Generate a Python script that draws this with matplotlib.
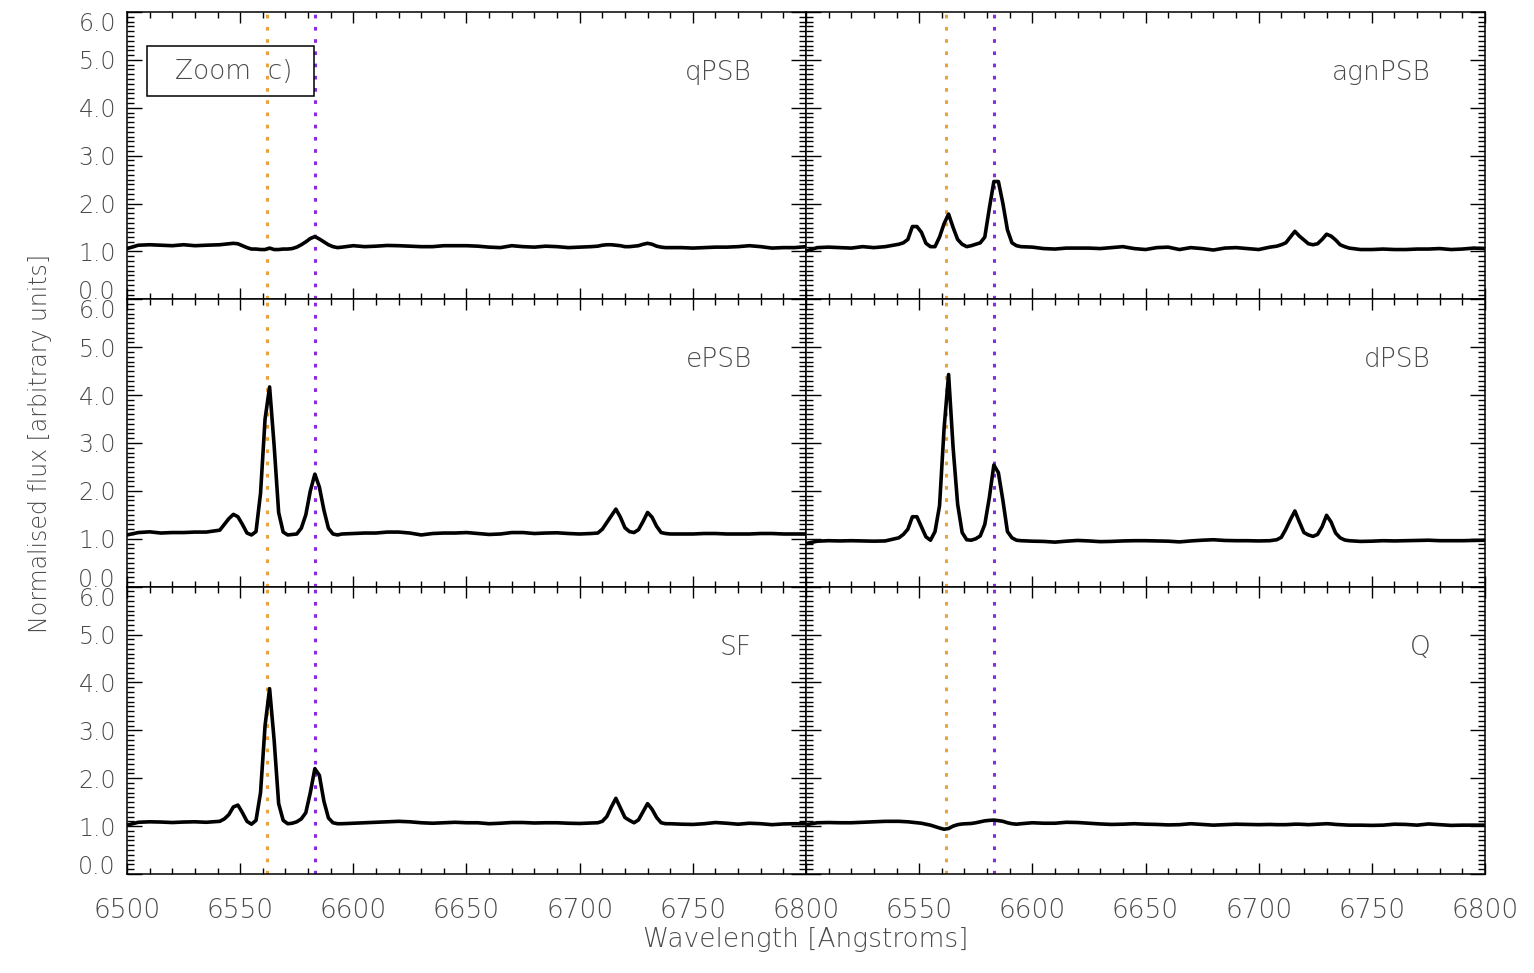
import matplotlib
matplotlib.use('Agg')
import matplotlib.pyplot as plt
from matplotlib.ticker import MultipleLocator, FormatStrFormatter, FixedLocator, FixedFormatter
from matplotlib.patches import Rectangle

# wavelength grid (Angstrom), finer around the emission lines
wave = [6500, 6505, 6510, 6515, 6520, 6525, 6530, 6535,
        6541, 6543, 6545, 6547, 6549, 6551, 6553, 6555, 6557, 6559, 6561, 6563,
        6565, 6567, 6569, 6571, 6573, 6575, 6577, 6579, 6581, 6583, 6585, 6587,
        6589, 6591, 6593, 6595,
        6600, 6605, 6610, 6615, 6620, 6625, 6630, 6635, 6640, 6645, 6650, 6655,
        6660, 6665, 6670, 6675, 6680, 6685, 6690, 6695, 6700, 6705,
        6708, 6710, 6712, 6714, 6716, 6718, 6720, 6722, 6724, 6726, 6728, 6730,
        6732, 6734, 6736, 6738,
        6740, 6745, 6750, 6755, 6760, 6765, 6770, 6775, 6780, 6785, 6790, 6795, 6800]

flux_qpsb = [1.06, 1.13, 1.14, 1.13, 1.12, 1.14, 1.12, 1.13,
             1.14, 1.15, 1.16, 1.17, 1.16, 1.12, 1.08, 1.05, 1.05, 1.04, 1.04, 1.07,
             1.04, 1.04, 1.05, 1.05, 1.06, 1.09, 1.14, 1.20, 1.27, 1.31, 1.26, 1.20,
             1.14, 1.10, 1.08, 1.09,
             1.12, 1.10, 1.11, 1.125, 1.12, 1.11, 1.10, 1.10, 1.12, 1.12, 1.12, 1.11,
             1.09, 1.08, 1.12, 1.10, 1.09, 1.11, 1.10, 1.08, 1.09, 1.10,
             1.11, 1.13, 1.14, 1.14, 1.13, 1.12, 1.10, 1.10, 1.11, 1.12, 1.15, 1.17,
             1.15, 1.11, 1.09, 1.08,
             1.08, 1.08, 1.07, 1.08, 1.09, 1.09, 1.10, 1.12, 1.10, 1.07, 1.08, 1.08, 1.10]

flux_agnpsb = [1.01, 1.08, 1.09, 1.08, 1.07, 1.10, 1.08, 1.10,
               1.15, 1.18, 1.25, 1.52, 1.52, 1.40, 1.17, 1.10, 1.10, 1.30, 1.58, 1.78,
               1.50, 1.25, 1.15, 1.10, 1.12, 1.15, 1.18, 1.30, 1.90, 2.46, 2.46, 2.00,
               1.45, 1.18, 1.12, 1.10,
               1.09, 1.06, 1.05, 1.07, 1.07, 1.07, 1.06, 1.08, 1.10, 1.06, 1.04, 1.08,
               1.09, 1.04, 1.08, 1.06, 1.03, 1.07, 1.08, 1.06, 1.04, 1.09,
               1.11, 1.14, 1.18, 1.30, 1.42, 1.32, 1.24, 1.16, 1.14, 1.16, 1.25, 1.36,
               1.32, 1.24, 1.14, 1.10,
               1.07, 1.04, 1.04, 1.05, 1.04, 1.04, 1.05, 1.05, 1.06, 1.04, 1.05, 1.07, 1.06]

flux_epsb = [1.08, 1.13, 1.145, 1.12, 1.13, 1.13, 1.14, 1.14,
             1.18, 1.30, 1.42, 1.51, 1.46, 1.30, 1.12, 1.08, 1.15, 1.95, 3.50, 4.17,
             2.95, 1.55, 1.14, 1.08, 1.09, 1.10, 1.22, 1.50, 2.00, 2.35, 2.08, 1.60,
             1.22, 1.10, 1.08, 1.10,
             1.11, 1.12, 1.12, 1.14, 1.14, 1.12, 1.08, 1.11, 1.12, 1.12, 1.13, 1.11,
             1.09, 1.10, 1.13, 1.13, 1.11, 1.12, 1.125, 1.11, 1.10, 1.11,
             1.12, 1.20, 1.34, 1.48, 1.62, 1.45, 1.23, 1.15, 1.13, 1.19, 1.36, 1.55,
             1.45, 1.26, 1.13, 1.11,
             1.10, 1.10, 1.10, 1.11, 1.11, 1.10, 1.10, 1.10, 1.11, 1.11, 1.10, 1.10, 1.10]

flux_dpsb = [0.90, 0.95, 0.96, 0.955, 0.96, 0.955, 0.95, 0.955,
             1.02, 1.09, 1.20, 1.46, 1.46, 1.25, 1.04, 0.97, 1.15, 1.69, 3.30, 4.43,
             2.90, 1.72, 1.13, 0.98, 0.97, 1.00, 1.06, 1.30, 1.86, 2.54, 2.38, 1.80,
             1.15, 1.02, 0.97, 0.96,
             0.95, 0.945, 0.93, 0.95, 0.965, 0.955, 0.94, 0.945, 0.955, 0.96, 0.96, 0.955,
             0.95, 0.935, 0.955, 0.97, 0.98, 0.965, 0.96, 0.96, 0.955, 0.96,
             0.98, 1.03, 1.20, 1.40, 1.58, 1.35, 1.13, 1.08, 1.05, 1.09, 1.25, 1.49,
             1.35, 1.12, 1.02, 0.975,
             0.96, 0.945, 0.95, 0.96, 0.955, 0.96, 0.965, 0.97, 0.96, 0.96, 0.96, 0.965, 0.97]

flux_sf = [1.02, 1.08, 1.09, 1.085, 1.075, 1.085, 1.09, 1.08,
           1.10, 1.15, 1.24, 1.40, 1.44, 1.28, 1.10, 1.04, 1.12, 1.70, 3.10, 3.87,
           2.80, 1.47, 1.12, 1.05, 1.06, 1.09, 1.15, 1.28, 1.70, 2.20, 2.06, 1.52,
           1.17, 1.07, 1.05, 1.05,
           1.06, 1.07, 1.08, 1.09, 1.10, 1.09, 1.07, 1.06, 1.07, 1.08, 1.07, 1.07,
           1.05, 1.06, 1.075, 1.075, 1.065, 1.07, 1.07, 1.06, 1.055, 1.065,
           1.07, 1.10, 1.20, 1.40, 1.58, 1.38, 1.18, 1.12, 1.07, 1.13, 1.30, 1.47,
           1.35, 1.18, 1.07, 1.05,
           1.05, 1.04, 1.035, 1.05, 1.075, 1.06, 1.04, 1.06, 1.05, 1.03, 1.045, 1.05, 1.05]

flux_q = [1.03, 1.07, 1.075, 1.07, 1.07, 1.08, 1.09, 1.10,
          1.10, 1.095, 1.09, 1.08, 1.07, 1.06, 1.04, 1.02, 0.99, 0.96, 0.935, 0.95,
          1.00, 1.03, 1.045, 1.05, 1.055, 1.07, 1.09, 1.11, 1.12, 1.125, 1.115, 1.10,
          1.07, 1.05, 1.04, 1.05,
          1.07, 1.06, 1.06, 1.08, 1.075, 1.06, 1.045, 1.035, 1.04, 1.05, 1.04, 1.035,
          1.025, 1.03, 1.05, 1.035, 1.02, 1.03, 1.04, 1.035, 1.03, 1.035,
          1.03, 1.03, 1.03, 1.035, 1.04, 1.04, 1.035, 1.03, 1.035, 1.04, 1.045, 1.05,
          1.045, 1.035, 1.03, 1.025,
          1.02, 1.02, 1.015, 1.02, 1.04, 1.035, 1.02, 1.045, 1.03, 1.015, 1.02, 1.02, 1.02]

names = ['qPSB', 'agnPSB', 'ePSB', 'dPSB', 'SF', 'Q']
fluxes = [flux_qpsb, flux_agnpsb, flux_epsb, flux_dpsb, flux_sf, flux_q]

xticks = [6500, 6550, 6600, 6650, 6700, 6750, 6800]
yticks = [0, 1, 2, 3, 4, 5, 6]

halpha = 6561.7
nii = 6582.9

txt = '#4a4a4a'
plt.rcParams['font.family'] = 'DejaVu Sans'
plt.rcParams['font.weight'] = 'light'

fig, axes = plt.subplots(3, 2, figsize=(15.34, 9.73), dpi=100)
fig.subplots_adjust(left=127/1534, right=1485/1534, bottom=1-874/973, top=1-12/973,
                    hspace=0, wspace=0)

for i, ax in enumerate(axes.flat):
    row, col = divmod(i, 2)
    ax.plot(wave, fluxes[i], color='black', lw=2.6, zorder=3)
    ax.axvline(halpha, color='#e8a33a', lw=2.2, ls=(0, (1.2, 2.8)), zorder=2)
    ax.axvline(nii, color='#8a2be2', lw=2.2, ls=(0, (1.2, 2.8)), zorder=2)
    ax.text(0.92, 0.79, names[i], transform=ax.transAxes, ha='right', va='center',
            fontsize=19, color=txt)

    ax.set_xlim(6500, 6800)
    ax.set_ylim(0, 6)
    ax.xaxis.set_major_locator(FixedLocator(xticks))
    ax.xaxis.set_minor_locator(MultipleLocator(10))
    ax.yaxis.set_major_locator(FixedLocator(yticks))
    ax.yaxis.set_minor_locator(MultipleLocator(0.1))
    ax.yaxis.set_major_formatter(FormatStrFormatter('%.1f'))
    if col == 1:
        # right column repeats the axis, so the shared 6500 label is dropped
        ax.xaxis.set_major_formatter(FixedFormatter([''] + [str(v) for v in xticks[1:]]))
    else:
        ax.xaxis.set_major_formatter(FixedFormatter([str(v) for v in xticks]))
    ax.tick_params(which='both', direction='in', top=True, right=True,
                   color='black', width=1, labelcolor=txt)
    ax.tick_params(axis='x', which='major', length=8, pad=17, labelsize=19)
    ax.tick_params(axis='x', which='minor', length=4)
    ax.tick_params(axis='y', which='major', length=11, pad=8, labelsize=17)
    ax.tick_params(axis='y', which='minor', length=5)
    ax.tick_params(axis='x', labelbottom=(row == 2))
    ax.tick_params(axis='y', labelleft=(col == 0))
    for s in ax.spines.values():
        s.set_linewidth(1.1)

    # edge labels sit just inside the panel, as in the original
    if col == 0:
        yt = ax.yaxis.get_major_ticks()
        yt[0].label1.set_va('baseline')
        yt[-1].label1.set_va('top')

ax0 = axes[0, 0]
ax0.add_patch(Rectangle((0.0295, 0.707), 0.246, 0.174, transform=ax0.transAxes,
                        fill=False, edgecolor='black', lw=1.1, zorder=4))
ax0.text(0.1565, 0.794, 'Zoom  c)', transform=ax0.transAxes, ha='center', va='center',
         fontsize=19, color=txt, zorder=5)

fig.text(806/1534, 1-940/973, 'Wavelength [Angstroms]', ha='center', va='center',
         fontsize=19, color=txt)
fig.text(40/1534, 1-443/973, 'Normalised flux [arbitrary units]', ha='center', va='center',
         rotation=90, fontsize=17, color=txt)

fig.savefig('out.png', dpi=100)
